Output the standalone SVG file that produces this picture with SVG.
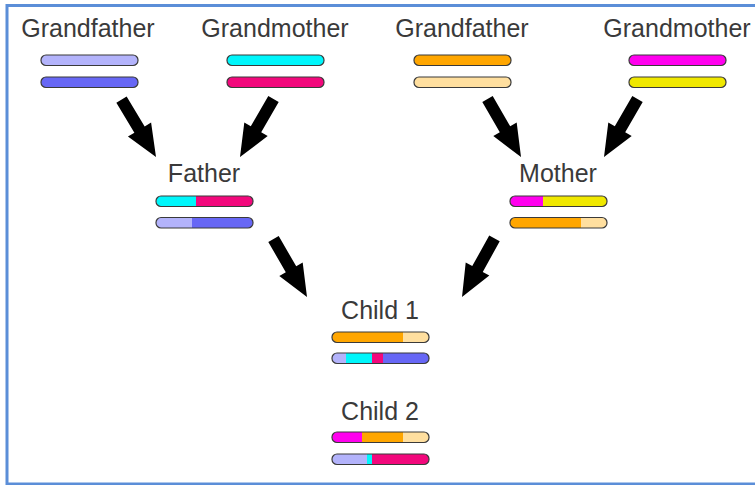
<svg xmlns="http://www.w3.org/2000/svg" width="755" height="485" viewBox="0 0 755 485">
<style>
.lbl{font-family:"Liberation Sans",Arial,sans-serif;font-size:25px;fill:#3a3a3a;text-anchor:middle}
.out{fill:none;stroke:#3a3a3a;stroke-width:1.2}
.arrow{fill:#000}
.lav{fill:#b3b3fb}.blu{fill:#6767f5}.cya{fill:#00f6fb}.pnk{fill:#f2087c}
.org{fill:#ffa600}.pch{fill:#ffdf9f}.mag{fill:#ff00ee}.yel{fill:#f0e800}
</style>
<defs>
<clipPath id="bar" clipPathUnits="objectBoundingBox"><rect x="0" y="0" width="1" height="1" rx="0.052" ry="0.5"/></clipPath>
<polygon id="arw" points="0,-6 35,-6 35,-13.5 67,0 35,13.5 35,6 0,6"/>
</defs>
<rect x="7" y="5.5" width="760" height="478.5" fill="#fff" stroke="#5b8ed8" stroke-width="3"/>

<g id="grandfather-paternal">
<text class="lbl" x="88" y="37">Grandfather</text>
<rect class="lav" x="41" y="55" width="97" height="10.5" rx="5"/><rect class="out" x="41" y="55" width="97" height="10.5" rx="5"/>
<rect class="blu" x="41" y="77" width="97" height="10.5" rx="5"/><rect class="out" x="41" y="77" width="97" height="10.5" rx="5"/>
</g>
<g id="grandmother-paternal">
<text class="lbl" x="275" y="37">Grandmother</text>
<rect class="cya" x="227" y="55" width="97" height="10.5" rx="5"/><rect class="out" x="227" y="55" width="97" height="10.5" rx="5"/>
<rect class="pnk" x="227" y="77" width="97" height="10.5" rx="5"/><rect class="out" x="227" y="77" width="97" height="10.5" rx="5"/>
</g>
<g id="grandfather-maternal">
<text class="lbl" x="462" y="37">Grandfather</text>
<rect class="org" x="414" y="55" width="97" height="10.5" rx="5"/><rect class="out" x="414" y="55" width="97" height="10.5" rx="5"/>
<rect class="pch" x="414" y="77" width="97" height="10.5" rx="5"/><rect class="out" x="414" y="77" width="97" height="10.5" rx="5"/>
</g>
<g id="grandmother-maternal">
<text class="lbl" x="677" y="37">Grandmother</text>
<rect class="mag" x="629" y="55" width="97" height="10.5" rx="5"/><rect class="out" x="629" y="55" width="97" height="10.5" rx="5"/>
<rect class="yel" x="629" y="77" width="97" height="10.5" rx="5"/><rect class="out" x="629" y="77" width="97" height="10.5" rx="5"/>
</g>

<g id="father">
<text class="lbl" x="204" y="182">Father</text>
<g clip-path="url(#bar)"><rect class="cya" x="156" y="196" width="40" height="10.5"/><rect class="pnk" x="196" y="196" width="57" height="10.5"/></g>
<rect class="out" x="156" y="196" width="97" height="10.5" rx="5"/>
<g clip-path="url(#bar)"><rect class="lav" x="156" y="217.5" width="36" height="10.5"/><rect class="blu" x="192" y="217.5" width="61" height="10.5"/></g>
<rect class="out" x="156" y="217.5" width="97" height="10.5" rx="5"/>
</g>

<g id="mother">
<text class="lbl" x="558" y="182">Mother</text>
<g clip-path="url(#bar)"><rect class="mag" x="510" y="196" width="33" height="10.5"/><rect class="yel" x="543" y="196" width="64" height="10.5"/></g>
<rect class="out" x="510" y="196" width="97" height="10.5" rx="5"/>
<g clip-path="url(#bar)"><rect class="org" x="510" y="217.5" width="71" height="10.5"/><rect class="pch" x="581" y="217.5" width="26" height="10.5"/></g>
<rect class="out" x="510" y="217.5" width="97" height="10.5" rx="5"/>
</g>

<g id="child1">
<text class="lbl" x="380" y="319">Child 1</text>
<g clip-path="url(#bar)"><rect class="org" x="332" y="332" width="71" height="10.5"/><rect class="pch" x="403" y="332" width="26" height="10.5"/></g>
<rect class="out" x="332" y="332" width="97" height="10.5" rx="5"/>
<g clip-path="url(#bar)"><rect class="lav" x="332" y="353" width="14" height="10.5"/><rect class="cya" x="346" y="353" width="26" height="10.5"/><rect class="pnk" x="372" y="353" width="11" height="10.5"/><rect class="blu" x="383" y="353" width="46" height="10.5"/></g>
<rect class="out" x="332" y="353" width="97" height="10.5" rx="5"/>
</g>

<g id="child2">
<text class="lbl" x="380" y="420">Child 2</text>
<g clip-path="url(#bar)"><rect class="mag" x="332" y="432" width="30" height="10.5"/><rect class="org" x="362" y="432" width="41" height="10.5"/><rect class="pch" x="403" y="432" width="26" height="10.5"/></g>
<rect class="out" x="332" y="432" width="97" height="10.5" rx="5"/>
<g clip-path="url(#bar)"><rect class="lav" x="332" y="454" width="35" height="10.5"/><rect class="cya" x="367" y="454" width="5" height="10.5"/><rect class="pnk" x="372" y="454" width="57" height="10.5"/></g>
<rect class="out" x="332" y="454" width="97" height="10.5" rx="5"/>
</g>

<g id="connectors" class="arrow">
<use href="#arw" transform="translate(156,157) rotate(59) translate(-67,0)"/>
<use href="#arw" transform="translate(240,157) rotate(120) translate(-67,0)"/>
<use href="#arw" transform="translate(521,157) rotate(60) translate(-67,0)"/>
<use href="#arw" transform="translate(604,157) rotate(120) translate(-67,0)"/>
<use href="#arw" transform="translate(307,297) rotate(60) translate(-67,0)"/>
<use href="#arw" transform="translate(462,297) rotate(119) translate(-67,0)"/>
</g>
</svg>
